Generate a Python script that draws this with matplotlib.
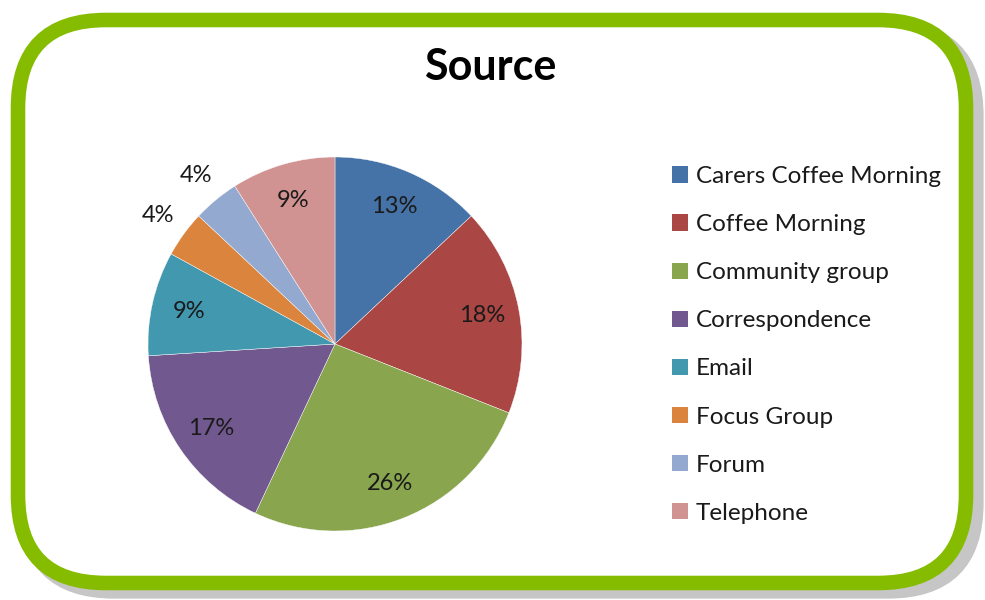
import matplotlib
matplotlib.use("Agg")
import matplotlib.pyplot as plt
from matplotlib.patches import FancyBboxPatch, Patch

title = "Source"
categories = ["Carers Coffee Morning", "Coffee Morning", "Community group",
              "Correspondence", "Email", "Focus Group", "Forum", "Telephone"]
values = [13, 18, 26, 17, 9, 4, 4, 9]
colors = ["#4572A7", "#AA4643", "#89A54E", "#71588F", "#4198AF",
          "#DB843D", "#93A9CF", "#D19392"]

FONT = "Lato"
W, H = 985, 600
fig = plt.figure(figsize=(W / 100, H / 100), dpi=100)

# background frame axes in pixel coordinates
bg = fig.add_axes([0, 0, 1, 1])
bg.set_xlim(0, W)
bg.set_ylim(H, 0)
bg.axis("off")

def frame(x0, y0, x1, y1, **kw):
    p = FancyBboxPatch((x0, y0), x1 - x0, y1 - y0,
                       boxstyle="round,pad=0,rounding_size=88", **kw)
    bg.add_patch(p)

frame(26, 28, 976, 591, facecolor="none", edgecolor="#c6c6c6", linewidth=11)
frame(18, 20, 966, 583, facecolor="white", edgecolor="#86BC00", linewidth=10.5)

fig.text(490 / W, 1 - 67 / H, title, ha="center", va="center",
         fontsize=31, fontweight="bold", family=FONT)

cx, cy, r = 335, 344, 187
ax = fig.add_axes([(cx - r) / W, (H - cy - r) / H, 2 * r / W, 2 * r / H])
wedges, texts, autotexts = ax.pie(
    values, colors=colors, startangle=90, counterclock=False,
    autopct="%1.0f%%", pctdistance=0.8, radius=1,
    wedgeprops=dict(edgecolor="white", linewidth=0.3),
    textprops=dict(fontsize=17, family=FONT, color="#1a1a1a"))
for v, t in zip(values, autotexts):
    if v <= 4:
        x, y = t.get_position()
        t.set_position((x * 1.17 / 0.8, y * 1.17 / 0.8))
ax.set_xlim(-1, 1)
ax.set_ylim(-1, 1)
ax.set_aspect("equal")
ax.axis("off")

handles = [Patch(facecolor=c, edgecolor="none") for c in colors]
leg = fig.legend(handles, categories, loc="upper left",
                 bbox_to_anchor=(672 / W, 1 - 166 / H), frameon=False,
                 prop=dict(family=FONT, size=17.5),
                 handlelength=0.65, handleheight=0.65, handletextpad=0.33,
                 labelspacing=1.115, borderaxespad=0, borderpad=0)
for t in leg.get_texts():
    t.set_color("#1a1a1a")

fig.savefig("out.png", dpi=100)
